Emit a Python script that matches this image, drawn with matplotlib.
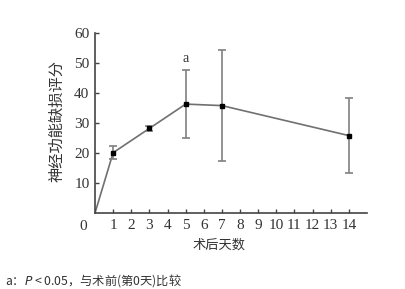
import matplotlib
matplotlib.use('Agg')
import matplotlib.pyplot as plt

# Data
days = [0, 1, 3, 5, 7, 14]
scores = [0, 20.1, 28.2, 36.3, 35.8, 25.8]
errors = [0, 2.2, 0.9, 11.4, 18.5, 12.4]
x_ticks = list(range(1, 15))
y_ticks = [10, 20, 30, 40, 50, 60]

SERIF = ['Liberation Serif', 'DejaVu Serif']
CJK = ['Noto Sans CJK SC', 'DejaVu Sans']
TXT = '#333333'

fig = plt.figure(figsize=(4.06, 2.89), dpi=100)
ax = fig.add_axes([95 / 406, 1 - 213 / 289, 272 / 406, 180 / 289])

ax.plot(days, scores, color='#707070', linewidth=1.2, zorder=2)
ax.errorbar(days[1:], scores[1:], yerr=errors[1:], fmt='s', color='black',
            markersize=3.5, ecolor='#808080', elinewidth=1.2, capsize=3,
            capthick=1.2, zorder=3)

ax.set_xlim(0, 15)
ax.set_ylim(0, 60)
ax.set_xticks(x_ticks)
ax.set_yticks(y_ticks)
ax.tick_params(direction='in', length=3, width=1, colors='#444444',
               labelsize=11, labelcolor=TXT, pad=4)
for lab in ax.get_xticklabels() + ax.get_yticklabels():
    lab.set_family(SERIF)

for side in ['top', 'right']:
    ax.spines[side].set_visible(False)
for side in ['left', 'bottom']:
    ax.spines[side].set_color('#444444')
    ax.spines[side].set_linewidth(1.2)

ax.text(-0.45, -2.2, '0', ha='right', va='top', fontsize=11, color=TXT,
        family=SERIF)
ax.text(5, 49.5, 'a', ha='center', va='bottom', fontsize=10, color=TXT,
        family=SERIF)

fig.text(57 / 406, 1 - 121 / 289, '神经功能缺损评分', family=CJK, fontsize=11,
         color=TXT, ha='center', va='center', rotation=90)
fig.text(219 / 406, 1 - 245 / 289, '术后天数', family=CJK, fontsize=9.5,
         color=TXT, ha='center', va='center')

fig.text(5 / 406, 1 - 281 / 289, 'a：$\\mathit{P}$ < 0.05，与术前(第0天)比较',
         family=CJK, fontsize=8.8, color='#333333', ha='left', va='center')

fig.savefig('out.png', dpi=100)
